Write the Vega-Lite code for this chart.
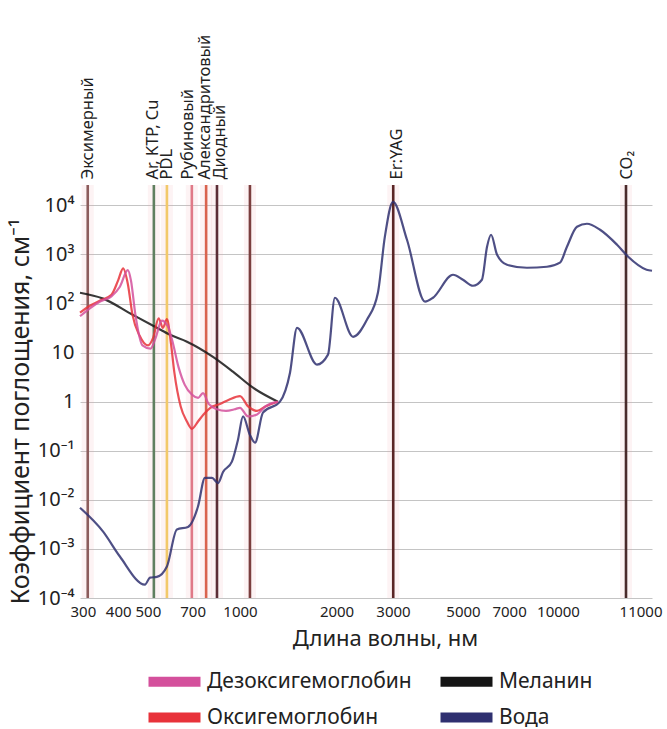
{
  "$schema": "https://vega.github.io/schema/vega-lite/v6.json",
  "width": 572,
  "height": 413,
  "autosize": "none",
  "padding": {"left": 80, "top": 185, "right": 15, "bottom": 131},
  "background": "white",
  "config": {
    "font": "Noto Sans",
    "view": {"stroke": null},
    "axis": {"labelColor": "#222", "titleColor": "#222", "gridColor": "#c4c4c4", "gridWidth": 1}
  },
  "datasets": {
    "curves": [
      {"s": "Вода", "wl": 300, "v": 0.0069},
      {"s": "Вода", "wl": 357, "v": 0.00225},
      {"s": "Вода", "wl": 405, "v": 0.0007},
      {"s": "Вода", "wl": 489, "v": 0.000187},
      {"s": "Вода", "wl": 508, "v": 0.00026},
      {"s": "Вода", "wl": 535, "v": 0.00027},
      {"s": "Вода", "wl": 577, "v": 0.00044},
      {"s": "Вода", "wl": 622, "v": 0.0025},
      {"s": "Вода", "wl": 676, "v": 0.0028},
      {"s": "Вода", "wl": 729, "v": 0.0073},
      {"s": "Вода", "wl": 768, "v": 0.028},
      {"s": "Вода", "wl": 810, "v": 0.028},
      {"s": "Вода", "wl": 848, "v": 0.022},
      {"s": "Вода", "wl": 880, "v": 0.037},
      {"s": "Вода", "wl": 941, "v": 0.06},
      {"s": "Вода", "wl": 985, "v": 0.168},
      {"s": "Вода", "wl": 1022, "v": 0.5},
      {"s": "Вода", "wl": 1074, "v": 0.21},
      {"s": "Вода", "wl": 1114, "v": 0.146},
      {"s": "Вода", "wl": 1179, "v": 0.6},
      {"s": "Вода", "wl": 1332, "v": 1.0},
      {"s": "Вода", "wl": 1432, "v": 3.9},
      {"s": "Вода", "wl": 1506, "v": 32},
      {"s": "Вода", "wl": 1738, "v": 5.7},
      {"s": "Вода", "wl": 1881, "v": 9.1},
      {"s": "Вода", "wl": 1977, "v": 131},
      {"s": "Вода", "wl": 2252, "v": 21},
      {"s": "Вода", "wl": 2490, "v": 47},
      {"s": "Вода", "wl": 2692, "v": 166},
      {"s": "Вода", "wl": 2830, "v": 2300},
      {"s": "Вода", "wl": 3000, "v": 11800},
      {"s": "Вода", "wl": 3322, "v": 1990},
      {"s": "Вода", "wl": 3790, "v": 109},
      {"s": "Вода", "wl": 4017, "v": 131},
      {"s": "Вода", "wl": 4648, "v": 386},
      {"s": "Вода", "wl": 4998, "v": 305},
      {"s": "Вода", "wl": 5378, "v": 230},
      {"s": "Вода", "wl": 5739, "v": 305},
      {"s": "Вода", "wl": 5958, "v": 1435},
      {"s": "Вода", "wl": 6135, "v": 2520},
      {"s": "Вода", "wl": 6411, "v": 986},
      {"s": "Вода", "wl": 6894, "v": 617},
      {"s": "Вода", "wl": 7970, "v": 536},
      {"s": "Вода", "wl": 9224, "v": 561},
      {"s": "Вода", "wl": 10017, "v": 680},
      {"s": "Вода", "wl": 10077, "v": 1435},
      {"s": "Вода", "wl": 10164, "v": 3665},
      {"s": "Вода", "wl": 10251, "v": 4220},
      {"s": "Вода", "wl": 10367, "v": 3184},
      {"s": "Вода", "wl": 10519, "v": 1577},
      {"s": "Вода", "wl": 10633, "v": 898},
      {"s": "Вода", "wl": 10915, "v": 489},
      {"s": "Вода", "wl": 11000, "v": 465},
      {"s": "Меланин", "wl": 300, "v": 166},
      {"s": "Меланин", "wl": 357, "v": 126},
      {"s": "Меланин", "wl": 440, "v": 62},
      {"s": "Меланин", "wl": 535, "v": 32},
      {"s": "Меланин", "wl": 591, "v": 23},
      {"s": "Меланин", "wl": 671, "v": 16.7},
      {"s": "Меланин", "wl": 816, "v": 8.2},
      {"s": "Меланин", "wl": 948, "v": 4.1},
      {"s": "Меланин", "wl": 1098, "v": 1.93},
      {"s": "Меланин", "wl": 1313, "v": 1.0},
      {"s": "Оксигемоглобин", "wl": 300, "v": 65},
      {"s": "Оксигемоглобин", "wl": 323, "v": 90},
      {"s": "Оксигемоглобин", "wl": 349, "v": 115},
      {"s": "Оксигемоглобин", "wl": 380, "v": 150},
      {"s": "Оксигемоглобин", "wl": 400, "v": 300},
      {"s": "Оксигемоглобин", "wl": 415, "v": 520},
      {"s": "Оксигемоглобин", "wl": 430, "v": 250},
      {"s": "Оксигемоглобин", "wl": 445, "v": 60},
      {"s": "Оксигемоглобин", "wl": 470, "v": 22},
      {"s": "Оксигемоглобин", "wl": 500, "v": 14},
      {"s": "Оксигемоглобин", "wl": 520, "v": 20},
      {"s": "Оксигемоглобин", "wl": 542, "v": 50},
      {"s": "Оксигемоглобин", "wl": 560, "v": 32},
      {"s": "Оксигемоглобин", "wl": 577, "v": 48},
      {"s": "Оксигемоглобин", "wl": 595, "v": 15},
      {"s": "Оксигемоглобин", "wl": 610, "v": 4},
      {"s": "Оксигемоглобин", "wl": 640, "v": 0.8},
      {"s": "Оксигемоглобин", "wl": 670, "v": 0.4},
      {"s": "Оксигемоглобин", "wl": 696, "v": 0.28},
      {"s": "Оксигемоглобин", "wl": 730, "v": 0.4},
      {"s": "Оксигемоглобин", "wl": 760, "v": 0.55},
      {"s": "Оксигемоглобин", "wl": 800, "v": 0.75},
      {"s": "Оксигемоглобин", "wl": 860, "v": 0.9},
      {"s": "Оксигемоглобин", "wl": 920, "v": 1.1},
      {"s": "Оксигемоглобин", "wl": 1000, "v": 1.3},
      {"s": "Оксигемоглобин", "wl": 1060, "v": 0.8},
      {"s": "Оксигемоглобин", "wl": 1130, "v": 0.65},
      {"s": "Оксигемоглобин", "wl": 1200, "v": 0.8},
      {"s": "Оксигемоглобин", "wl": 1313, "v": 1.0},
      {"s": "Дезоксигемоглобин", "wl": 300, "v": 55},
      {"s": "Дезоксигемоглобин", "wl": 323, "v": 80},
      {"s": "Дезоксигемоглобин", "wl": 349, "v": 110},
      {"s": "Дезоксигемоглобин", "wl": 380, "v": 140},
      {"s": "Дезоксигемоглобин", "wl": 405, "v": 220},
      {"s": "Дезоксигемоглобин", "wl": 430, "v": 480},
      {"s": "Дезоксигемоглобин", "wl": 440, "v": 300},
      {"s": "Дезоксигемоглобин", "wl": 455, "v": 60},
      {"s": "Дезоксигемоглобин", "wl": 480, "v": 14},
      {"s": "Дезоксигемоглобин", "wl": 510, "v": 12},
      {"s": "Дезоксигемоглобин", "wl": 530, "v": 20},
      {"s": "Дезоксигемоглобин", "wl": 555, "v": 45},
      {"s": "Дезоксигемоглобин", "wl": 580, "v": 35},
      {"s": "Дезоксигемоглобин", "wl": 600, "v": 18},
      {"s": "Дезоксигемоглобин", "wl": 630, "v": 5},
      {"s": "Дезоксигемоглобин", "wl": 660, "v": 2.2},
      {"s": "Дезоксигемоглобин", "wl": 696, "v": 1.4},
      {"s": "Дезоксигемоглобин", "wl": 730, "v": 1.2},
      {"s": "Дезоксигемоглобин", "wl": 757, "v": 1.5},
      {"s": "Дезоксигемоглобин", "wl": 790, "v": 0.9},
      {"s": "Дезоксигемоглобин", "wl": 841, "v": 0.7},
      {"s": "Дезоксигемоглобин", "wl": 900, "v": 0.65},
      {"s": "Дезоксигемоглобин", "wl": 960, "v": 0.7},
      {"s": "Дезоксигемоглобин", "wl": 1000, "v": 0.75},
      {"s": "Дезоксигемоглобин", "wl": 1060, "v": 0.5},
      {"s": "Дезоксигемоглобин", "wl": 1130, "v": 0.55},
      {"s": "Дезоксигемоглобин", "wl": 1200, "v": 0.8},
      {"s": "Дезоксигемоглобин", "wl": 1313, "v": 1.0}
    ],
    "lasers": [
      {"name": "Эксимерный", "wl": 318},
      {"name": "Ar, KTP, Cu", "wl": 523},
      {"name": "PDL", "wl": 577},
      {"name": "Рубиновый", "wl": 696},
      {"name": "Александритовый", "wl": 775},
      {"name": "Диодный", "wl": 841},
      {"name": "Nd:YAG", "wl": 1074},
      {"name": "Er:YAG", "wl": 3005},
      {"name": "CO₂", "wl": 10600}
    ]
  },
  "layer": [
    {
      "data": {"name": "lasers"},
      "mark": {"type": "rule", "strokeWidth": 12, "opacity": 0.12, "color": "#eb9aa6"},
      "encoding": {
        "x": {"field": "wl", "type": "quantitative", "axis": null,
              "scale": {"type": "log", "domain": [300, 1000, 3000, 10000, 10600, 11000], "range": [0, 160, 313, 478, 546, 572], "nice": false}}
      }
    },
    {
      "data": {"name": "lasers"},
      "mark": {"type": "rule", "strokeWidth": 2.6},
      "encoding": {
        "x": {"field": "wl", "type": "quantitative",
              "scale": {"type": "log", "domain": [300, 1000, 3000, 10000, 10600, 11000], "range": [0, 160, 313, 478, 546, 572], "nice": false},
              "axis": {"orient": "top", "title": null, "grid": false, "ticks": false, "domain": false,
                       "values": [318, 516, 577, 674, 763, 860, 3088, 10600],
                       "labelExpr": "datum.value < 400 ? 'Эксимерный' : datum.value < 550 ? 'Ar, KTP, Cu' : datum.value < 620 ? 'PDL' : datum.value < 720 ? 'Рубиновый' : datum.value < 800 ? 'Александритовый' : datum.value < 1000 ? 'Диодный' : datum.value < 5000 ? 'Er:YAG' : 'CO₂'",
                       "labelAngle": 270, "labelFontSize": 16.5, "labelPadding": 6, "labelOverlap": false, "labelFlush": false, "labelBound": false, "labelLimit": 400}},
        "stroke": {"field": "name", "type": "nominal", "legend": null,
                   "scale": {"domain": ["Эксимерный", "Ar, KTP, Cu", "PDL", "Рубиновый", "Александритовый", "Диодный", "Nd:YAG", "Er:YAG", "CO₂"],
                             "range": ["#8c5c5c", "#5f7f5f", "#f2c96a", "#e07a88", "#d9634e", "#5c2e36", "#7a3e3e", "#5a2525", "#4a2a2a"]}}
      }
    },
    {
      "data": {"name": "curves"},
      "mark": {"type": "line", "strokeWidth": 2.2, "opacity": 0.85, "interpolate": "monotone"},
      "encoding": {
        "x": {"field": "wl", "type": "quantitative",
              "scale": {"type": "log", "domain": [300, 1000, 3000, 10000, 10600, 11000], "range": [0, 160, 313, 478, 546, 572], "nice": false},
              "axis": {"orient": "bottom", "title": "Длина волны, нм", "titleFontSize": 22, "titleFontWeight": "normal", "titlePadding": 9, "titleX": 305,
                       "values": [300, 400, 500, 600, 700, 800, 900, 1000, 2000, 3000, 4000, 5000, 6000, 7000, 8000, 9000, 10000, 11000],
                       "labelExpr": "indexof([300, 400, 500, 700, 1000, 2000, 3000, 5000, 7000, 10000, 11000], datum.value) >= 0 ? '' + datum.value : ''",
                       "labelFontSize": 15, "labelPadding": 6, "ticks": false, "domain": false, "labelOverlap": false, "labelFlush": true, "labelFlushOffset": 10, "labelBound": false}},
        "y": {"field": "v", "type": "quantitative",
              "scale": {"type": "log", "domain": [0.0001, 26000], "nice": false},
              "axis": {"title": "Коэффициент поглощения, см⁻¹", "titleFontSize": 25, "titleFontWeight": "normal", "titlePadding": 4, "titleY": 226,
                       "values": [0.0001, 0.001, 0.01, 0.1, 1, 10, 100, 1000, 10000],
                       "labelExpr": "datum.value < 0.0005 ? '10⁻⁴' : datum.value < 0.005 ? '10⁻³' : datum.value < 0.05 ? '10⁻²' : datum.value < 0.5 ? '10⁻¹' : datum.value < 5 ? '1' : datum.value < 50 ? '10' : datum.value < 500 ? '10²' : datum.value < 5000 ? '10³' : '10⁴'",
                       "labelFontSize": 20, "labelPadding": 6, "ticks": false, "domain": false, "labelOverlap": false}},
        "color": {"field": "s", "type": "nominal",
                  "scale": {"domain": ["Дезоксигемоглобин", "Меланин", "Оксигемоглобин", "Вода"], "range": ["#d4509c", "#151515", "#e8323a", "#2f3070"]},
                  "legend": {"orient": "none", "direction": "horizontal", "legendX": 84, "legendY": 486, "columns": 2, "title": null, "padding": 0,
                             "symbolType": "M-5.2,0H5.2", "symbolSize": 100, "symbolStrokeWidth": 10, "symbolOpacity": 1,
                             "labelFontSize": 21, "labelOffset": 22, "columnPadding": 8, "rowPadding": -5, "labelLimit": 400, "labelColor": "#222"}}
      }
    }
  ],
  "resolve": {"axis": {"x": "independent"}}
}
